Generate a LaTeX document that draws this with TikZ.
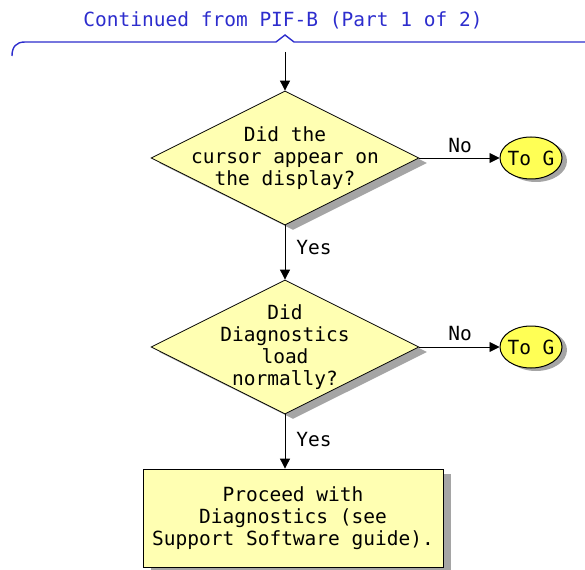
\documentclass[tikz,border=0pt]{standalone}
\usepackage{fontspec}
\setmonofont{DejaVu Sans Mono}
\usetikzlibrary{shapes.geometric,arrows.meta,shadows}
\definecolor{paleyellow}{RGB}{255,255,178}
\definecolor{brightyellow}{RGB}{255,255,85}
\definecolor{shadowgray}{RGB}{165,165,165}
\definecolor{titleblue}{RGB}{45,45,205}
\begin{document}
\begin{tikzpicture}[x=1pt,y=-1pt,
  mono/.style={font=\ttfamily\fontsize{19.5}{22}\selectfont, align=center, inner sep=0pt},
  shade8/.style={drop shadow={shadow xshift=8pt, shadow yshift=-5pt, fill=shadowgray, opacity=1}},
  decision/.style={shape=diamond, draw=black, line width=0.8pt, fill=paleyellow,
    minimum width=268pt, minimum height=134pt, inner sep=0pt, shade8},
  action/.style={shape=rectangle, draw=black, line width=0.8pt, fill=paleyellow,
    minimum width=300pt, minimum height=98pt, inner sep=0pt, shade8},
  connector/.style={shape=ellipse, draw=black, line width=1pt, fill=brightyellow,
    minimum width=62pt, minimum height=42pt, inner sep=0pt,
    drop shadow={shadow xshift=5pt, shadow yshift=-3pt, fill=shadowgray, opacity=1}},
  flow/.style={draw=black, line width=0.9pt, -{Triangle[length=10pt,width=10pt]}},
  brace/.style={draw=titleblue, line width=1.4pt}
]
\useasboundingbox (0,0) rectangle (585,569);

% heading and brace
\node[mono, text=titleblue] (title) at (283,20) {Continued from PIF-B (Part 1 of 2)};
\coordinate (bracetip) at (285,52);
\draw[brace] (12,56) .. controls (12,47) and (16,42) .. (25,42) -- (276,42)
  -- (285,35) -- (294,42) -- (585,42);

% shapes
\node[decision] (d1) at (285,158) {};
\node[mono] (t1) at (d1) {Did the\\cursor appear on\\the display?};
\node[decision] (d2) at (285,347) {};
\node[mono] (t2) at (d2) {Did\\Diagnostics\\load\\normally?};
\node[action] (box) at (293,518) {};
\node[mono] (t3) at (293,518) {Proceed with\\Diagnostics (see\\Support Software guide).};
\node[connector] (g1) at (531,158) {};
\node[mono] (g1t) at (g1) {To G};
\node[connector] (g2) at (531,347) {};
\node[mono] (g2t) at (g2) {To G};

% connectors
\draw[flow] (bracetip) -- (d1.north);
\draw[flow] (d1.south) -- (d2.north);
\draw[flow] (d2.south) -- (box.north -| d2.south);
\draw[flow] (d1.east) -- (g1.west);
\draw[flow] (d2.east) -- (g2.west);

% branch labels
\node[mono] (y1) at (314,248) {Yes};
\node[mono] (y2) at (314,440) {Yes};
\node[mono] (n1) at (460,146) {No};
\node[mono] (n2) at (460,334) {No};
\end{tikzpicture}
\end{document}
